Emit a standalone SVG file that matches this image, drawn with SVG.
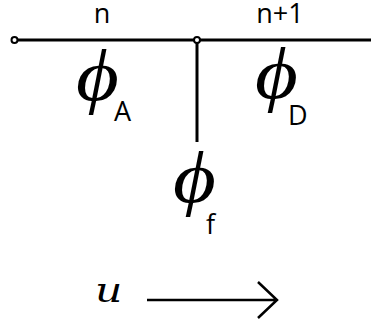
<svg xmlns="http://www.w3.org/2000/svg" width="371" height="322" viewBox="0 0 371 322">
<style>
.ln{stroke:#000;stroke-width:3;fill:none}
.dot{stroke:#000;stroke-width:2;fill:#fff}
.lbl{font-family:"Open Sans","Noto Sans",sans-serif;font-size:27px;fill:#000}
.phi{font-family:"Liberation Serif",serif;font-style:italic;font-size:72px;fill:#000}
.u{font-family:"DejaVu Serif",serif;font-style:italic;font-size:34px;fill:#000}
</style>
<rect width="371" height="322" fill="#fff"/>
<g id="connectors">
<line class="ln" x1="14" y1="40" x2="371" y2="40"/>
<line class="ln" x1="197" y1="40" x2="197" y2="142"/>
<path class="ln" d="M147 300 H277 M258 282 L277 300 L258 318" style="stroke-width:2.5"/>
</g>
<g id="node-n"><circle class="dot" cx="14.5" cy="40" r="3"/><text class="lbl" x="102" y="23" text-anchor="middle">n</text></g>
<g id="node-n1"><circle class="dot" cx="197" cy="40" r="3"/><text class="lbl" x="280" y="23" text-anchor="middle">n+1</text></g>
<g id="phiA"><text class="phi" transform="translate(76 100) scale(1.15 1)">ϕ</text><text class="lbl" x="114" y="121">A</text></g>
<g id="phiD"><text class="phi" transform="translate(255 98) scale(1.15 1)">ϕ</text><text class="lbl" x="288" y="125">D</text></g>
<g id="phif"><text class="phi" transform="translate(173 202) scale(1.15 1)">ϕ</text><text class="lbl" x="206" y="234">f</text></g>
<g id="u"><text class="u" transform="translate(95 302) scale(1.25 1)">u</text></g>
</svg>
